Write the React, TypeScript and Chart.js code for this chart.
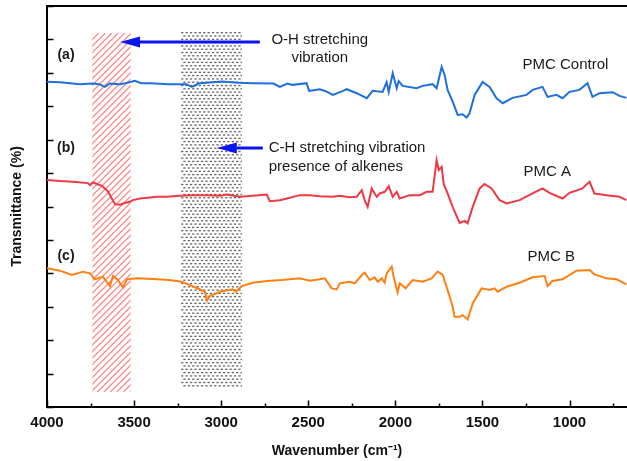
import React, { useEffect, useRef } from "react";
import { Chart, registerables } from "chart.js";

Chart.register(...registerables);

// ---- Data (wavenumber cm^-1, transmittance a.u.) ----
const WN_CONTROL = [4000, 3925, 3811, 3736, 3700, 3667, 3640, 3581, 3550, 3495, 3460, 3409, 3300, 3294, 3200, 3168, 3130, 3122, 3048, 2996, 2900, 2818, 2700, 2663, 2620, 2589, 2510, 2495, 2470, 2434, 2400, 2359, 2300, 2279, 2222, 2164, 2130, 2073, 2050, 2038, 2015, 1992, 1981, 1958, 1878, 1843, 1786, 1763, 1734, 1717, 1700, 1671, 1642, 1614, 1591, 1574, 1545, 1499, 1459, 1419, 1384, 1327, 1247, 1212, 1155, 1126, 1075, 1040, 1000, 943, 897, 868, 828, 753, 713, 673];
const T_CONTROL = [9.73, 9.72, 9.66, 9.68, 9.66, 9.58, 9.68, 9.66, 9.69, 9.76, 9.69, 9.69, 9.66, 9.66, 9.66, 9.58, 9.68, 9.69, 9.72, 9.74, 9.7, 9.69, 9.68, 9.58, 9.68, 9.64, 9.69, 9.46, 9.48, 9.51, 9.45, 9.34, 9.46, 9.51, 9.39, 9.24, 9.46, 9.43, 9.72, 9.43, 9.99, 9.54, 9.75, 9.61, 9.54, 9.61, 9.66, 9.54, 10.18, 9.93, 9.49, 9.14, 8.74, 8.76, 8.66, 8.79, 9.34, 9.73, 9.58, 9.24, 9.09, 9.25, 9.34, 9.49, 9.58, 9.28, 9.34, 9.24, 9.43, 9.49, 9.69, 9.28, 9.39, 9.42, 9.31, 9.25];

const WN_A = [4000, 3925, 3851, 3765, 3753, 3736, 3685, 3650, 3610, 3580, 3564, 3524, 3507, 3467, 3369, 3312, 3237, 3163, 3082, 3008, 2967, 2893, 2818, 2738, 2721, 2663, 2623, 2549, 2491, 2434, 2359, 2319, 2262, 2222, 2193, 2176, 2159, 2136, 2107, 2090, 2061, 2038, 2015, 1992, 1975, 1918, 1860, 1820, 1786, 1763, 1751, 1734, 1723, 1700, 1671, 1631, 1602, 1585, 1556, 1516, 1488, 1447, 1402, 1361, 1287, 1212, 1155, 1115, 1040, 1000, 926, 885, 857, 788, 713, 673];
const T_A = [6.79, 6.76, 6.74, 6.7, 6.64, 6.72, 6.62, 6.45, 6.07, 6.05, 6.09, 6.14, 6.19, 6.24, 6.29, 6.29, 6.32, 6.34, 6.34, 6.32, 6.36, 6.29, 6.32, 6.36, 6.16, 6.19, 6.24, 6.34, 6.34, 6.31, 6.29, 6.32, 6.28, 6.29, 6.49, 6.19, 5.99, 6.54, 6.29, 6.39, 6.44, 6.61, 6.29, 6.44, 6.24, 6.34, 6.34, 6.44, 6.44, 7.39, 7.09, 7.19, 6.69, 6.39, 5.99, 5.51, 5.57, 5.5, 5.99, 6.54, 6.67, 6.54, 6.19, 6.09, 6.19, 6.39, 6.54, 6.41, 6.24, 6.41, 6.54, 6.74, 6.39, 6.34, 6.29, 6.19];

const WN_B = [4000, 3925, 3857, 3794, 3753, 3725, 3679, 3639, 3621, 3593, 3564, 3541, 3484, 3420, 3369, 3300, 3226, 3140, 3094, 3082, 3065, 3008, 2933, 2916, 2881, 2818, 2738, 2650, 2549, 2491, 2434, 2405, 2365, 2337, 2319, 2262, 2233, 2193, 2176, 2147, 2119, 2101, 2078, 2061, 2050, 2021, 2010, 1987, 1975, 1941, 1901, 1843, 1792, 1757, 1728, 1700, 1671, 1660, 1631, 1614, 1585, 1556, 1505, 1459, 1430, 1413, 1361, 1287, 1212, 1143, 1126, 1098, 1040, 960, 885, 857, 788, 730, 673];
const T_B = [4.15, 4.08, 3.95, 4.05, 4.0, 3.82, 3.9, 3.62, 3.92, 3.8, 3.58, 3.82, 3.85, 3.84, 3.82, 3.8, 3.75, 3.56, 3.45, 3.18, 3.32, 3.45, 3.52, 3.45, 3.62, 3.72, 3.77, 3.8, 3.85, 3.78, 3.82, 3.85, 3.55, 3.52, 3.7, 3.75, 3.7, 3.95, 4.02, 3.8, 3.88, 3.75, 3.85, 3.72, 4.0, 4.2, 3.9, 3.43, 3.7, 3.55, 3.8, 3.75, 3.85, 4.05, 3.95, 3.5, 3.0, 2.7, 2.7, 2.75, 2.62, 3.1, 3.55, 3.5, 3.55, 3.45, 3.6, 3.72, 3.88, 3.92, 3.62, 3.77, 3.82, 4.08, 4.1, 3.97, 3.85, 3.82, 3.67];

const X_TICKS = [4000, 3750, 3500, 3250, 3000, 2750, 2500, 2250, 2000, 1750, 1500, 1250, 1000, 750];
const Y_TICKS = [0, 1, 2, 3, 4, 5, 6, 7, 8, 9, 10, 11, 12];

// shaded bands: [wnFrom, wnTo, tBottom, tTop]
const OH_BAND = [3740, 3520, 0.45, 11.19];
const CH_BAND = [3230, 2880, 0.57, 11.22];

// arrows: [tailWn, headWn, t]
const ARROWS = [
  [2778, 3581, 10.92],
  [2761, 3025, 7.75],
];

// labels: [text, wn, t, align, bold]
const LABELS: [string, number, number, CanvasTextAlign, boolean][] = [
  ["(a)", 3891, 10.52, "center", true],
  ["(b)", 3891, 7.75, "center", true],
  ["(c)", 3891, 4.5, "center", true],
  ["O-H stretching", 2434, 10.98, "center", false],
  ["vibration", 2434, 10.44, "center", false],
  ["C-H stretching vibration", 2727, 7.75, "left", false],
  ["presence of alkenes", 2727, 7.18, "left", false],
  ["PMC Control", 1270, 10.23, "left", false],
  ["PMC A", 1264, 7.03, "left", false],
  ["PMC B", 1241, 4.5, "left", false],
];

const FONT = "'Liberation Sans', Arial, sans-serif";

const overlay = {
  id: "overlay",
  beforeDatasetsDraw(chart: any) {
    const { ctx, scales } = chart;
    const x = scales.x, y = scales.y;
    // O-H hatched band
    {
      const x1 = x.getPixelForValue(OH_BAND[0]);
      const x2 = x.getPixelForValue(OH_BAND[1]);
      const yb = y.getPixelForValue(OH_BAND[2]);
      const yt = y.getPixelForValue(OH_BAND[3]);
      ctx.save();
      ctx.beginPath();
      ctx.rect(x1, yt, x2 - x1, yb - yt);
      ctx.clip();
      ctx.strokeStyle = "rgba(255,100,100,0.8)";
      ctx.lineWidth = 1.2;
      const h = yb - yt;
      for (let s = x1 - h; s < x2 + 10; s += 6.5) {
        ctx.beginPath();
        ctx.moveTo(s, yb);
        ctx.lineTo(s + h, yt);
        ctx.stroke();
      }
      ctx.restore();
    }
    // C-H dotted band
    {
      const x1 = x.getPixelForValue(CH_BAND[0]);
      const x2 = x.getPixelForValue(CH_BAND[1]);
      const yb = y.getPixelForValue(CH_BAND[2]);
      const yt = y.getPixelForValue(CH_BAND[3]);
      ctx.save();
      ctx.beginPath();
      ctx.rect(x1, yt, x2 - x1, yb - yt);
      ctx.clip();
      ctx.fillStyle = "#666";
      let row = 0;
      for (let yy = yt; yy < yb; yy += 3.3, row++) {
        const off = row % 2 ? 2.2 : 0;
        for (let xx = x1 + off; xx < x2; xx += 4.4) {
          ctx.fillRect(xx, yy, 2.3, 1.3);
        }
      }
      ctx.restore();
    }
  },
  afterDatasetsDraw(chart: any) {
    const { ctx, scales, chartArea } = chart;
    const x = scales.x, y = scales.y;
    ctx.save();
    // arrows
    ctx.strokeStyle = "#0a14ee";
    ctx.fillStyle = "#0a14ee";
    for (const [tw, hw, t] of ARROWS) {
      const xt = x.getPixelForValue(tw);
      const xh = x.getPixelForValue(hw);
      const yy = y.getPixelForValue(t);
      const base = xh + 20;
      ctx.lineWidth = 3;
      ctx.beginPath();
      ctx.moveTo(xt, yy);
      ctx.lineTo(base, yy);
      ctx.stroke();
      ctx.beginPath();
      ctx.moveTo(xh, yy);
      ctx.lineTo(base, yy - 5.5);
      ctx.lineTo(base, yy + 5.5);
      ctx.closePath();
      ctx.fill();
    }
    // labels
    ctx.fillStyle = "#1a1a1a";
    ctx.textBaseline = "middle";
    for (const [txt, wn, t, align, bold] of LABELS) {
      ctx.font = bold ? `bold 14px ${FONT}` : `15px ${FONT}`;
      ctx.textAlign = align;
      ctx.fillText(txt, x.getPixelForValue(wn), y.getPixelForValue(t));
    }
    // inward tick marks
    ctx.strokeStyle = "#000";
    ctx.lineWidth = 1.5;
    for (const v of X_TICKS) {
      const px = Math.round(x.getPixelForValue(v)) + 0.5;
      const len = v % 500 === 0 ? 6.5 : 3.5;
      ctx.beginPath();
      ctx.moveTo(px, chartArea.bottom);
      ctx.lineTo(px, chartArea.bottom - len);
      ctx.stroke();
    }
    for (const v of Y_TICKS) {
      const py = Math.round(y.getPixelForValue(v)) + 0.5;
      ctx.beginPath();
      ctx.moveTo(chartArea.left, py);
      ctx.lineTo(chartArea.left + 6.5, py);
      ctx.stroke();
    }
    // top frame line
    ctx.lineWidth = 2;
    ctx.beginPath();
    ctx.moveTo(chartArea.left - 1, chartArea.top);
    ctx.lineTo(chartArea.right, chartArea.top);
    ctx.stroke();
    ctx.restore();
  },
};

function toPoints(xs: number[], ys: number[]) {
  return xs.map((v, i) => ({ x: v, y: ys[i] }));
}

export default function App() {
  const ref = useRef<HTMLCanvasElement | null>(null);
  useEffect(() => {
    document.body.style.margin = "0";
    const canvas = ref.current;
    if (!canvas) return;
    const chart = new Chart(canvas, {
      type: "line",
      data: {
        datasets: [
          { label: "PMC Control", data: toPoints(WN_CONTROL, T_CONTROL), borderColor: "#1f6fdc", borderWidth: 2, pointRadius: 0, tension: 0 },
          { label: "PMC A", data: toPoints(WN_A, T_A), borderColor: "#ee3a44", borderWidth: 2, pointRadius: 0, tension: 0 },
          { label: "PMC B", data: toPoints(WN_B, T_B), borderColor: "#ff8010", borderWidth: 2, pointRadius: 0, tension: 0 },
        ],
      },
      options: {
        responsive: false,
        animation: false,
        devicePixelRatio: 1,
        layout: { padding: { left: 0, right: 0, top: 6, bottom: 0 } },
        plugins: { legend: { display: false }, tooltip: { enabled: false } },
        scales: {
          x: {
            type: "linear",
            reverse: true,
            min: 670,
            max: 4000,
            position: "bottom",
            afterBuildTicks: (s: any) => { s.ticks = X_TICKS.map((v) => ({ value: v })); },
            afterFit: (s: any) => { s.height = 54; },
            grid: { display: false, drawTicks: false },
            border: { display: true, color: "#000", width: 2 },
            ticks: {
              autoSkip: false,
              maxRotation: 0,
              padding: 7,
              color: "#111",
              font: { family: FONT, size: 15, weight: "bold" },
              callback: (v: any) => (Number(v) % 500 === 0 ? String(v) : ""),
            },
            title: {
              display: true,
              text: "Wavenumber (cm⁻¹)",
              color: "#111",
              font: { family: FONT, size: 14, weight: "bold" },
              padding: { top: 0, bottom: 1 },
            },
          },
          y: {
            type: "linear",
            min: 0,
            max: 12,
            afterBuildTicks: (s: any) => { s.ticks = Y_TICKS.map((v) => ({ value: v })); },
            afterFit: (s: any) => { s.width = 47; },
            grid: { display: false, drawTicks: false },
            border: { display: true, color: "#000", width: 2 },
            ticks: { display: false },
            title: {
              display: true,
              text: "Transmittance (%)",
              color: "#111",
              font: { family: FONT, size: 14, weight: "bold" },
              padding: { top: 9, bottom: 0 },
            },
          },
        },
      },
      plugins: [overlay],
    });
    return () => chart.destroy();
  }, []);
  return (
    <div style={{ width: 627, height: 461 }}>
      <canvas ref={ref} width={627} height={461} />
    </div>
  );
}
